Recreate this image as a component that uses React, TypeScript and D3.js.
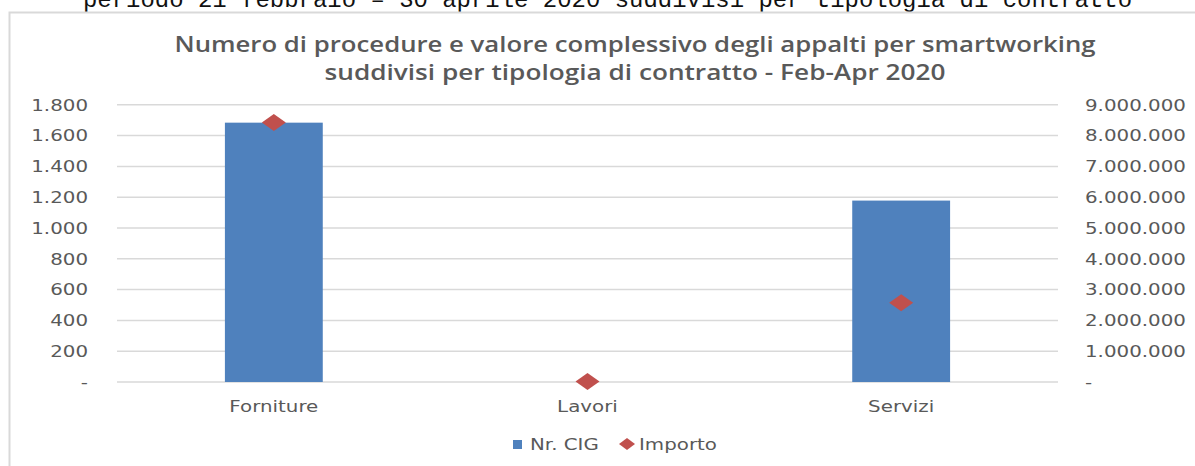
import { useEffect, useRef } from 'react';
import * as d3 from 'd3';

const W = 1195;
const H = 466;

const categories = ['Forniture', 'Lavori', 'Servizi'];
const nrCig = [1684, 0, 1178];
const importo = [8425000, 15000, 2575000];
const leftTicks = [0, 200, 400, 600, 800, 1000, 1200, 1400, 1600, 1800];
const rightTicks = [0, 1000000, 2000000, 3000000, 4000000, 5000000, 6000000, 7000000, 8000000, 9000000];
const titleLines = [
  'Numero di procedure e valore complessivo degli appalti per smartworking',
  'suddivisi per tipologia di contratto - Feb-Apr 2020',
];
const captionAbove = 'periodo 21 febbraio \u2013 30 aprile 2020 suddivisi per tipologia di contratto';

const itLocale = d3.formatLocale({ decimal: ',', thousands: '.', grouping: [3], currency: ['€', ''] });
const fmt = (v: number) => (v === 0 ? '-' : itLocale.format(',')(v));

const TEXT = '#595959';
const GRID = '#d9d9d9';
const BAR = '#4f81bd';
const MARK = '#c0504d';
const SX = 1.24; // the picture is stretched sideways

export default function App() {
  const svgRef = useRef<SVGSVGElement>(null);

  useEffect(() => {
    if (!svgRef.current) return;
    const svg = d3.select(svgRef.current);
    svg.selectAll('*').remove();

    const left = 117;
    const right = 1058;
    const top = 104.8;
    const bottom = 382;

    const x = d3.scaleBand<string>()
      .domain(categories)
      .range([left, right])
      .paddingInner(0.688)
      .paddingOuter(0.344);
    const yL = d3.scaleLinear().domain([0, 1800]).range([bottom, top]);
    const yR = d3.scaleLinear().domain([0, 9000000]).range([bottom, top]);

    // caption of the page above, cut by the top edge as in the source
    svg.append('text')
      .attr('x', 83)
      .attr('y', 7)
      .attr('font-family', '"Liberation Mono", monospace')
      .attr('font-size', 24)
      .attr('fill', '#111')
      .attr('textLength', 1049)
      .attr('lengthAdjust', 'spacingAndGlyphs')
      .text(captionAbove);

    // chart frame
    svg.append('rect')
      .attr('x', 9.5)
      .attr('y', 12.5)
      .attr('width', W + 20)
      .attr('height', H + 20)
      .attr('fill', '#fff')
      .attr('stroke', GRID)
      .attr('stroke-width', 2);

    // title
    const titleWidths = [921, 621];
    titleLines.forEach((line, i) => {
      svg.append('text')
        .attr('x', 635)
        .attr('y', 52 + i * 28)
        .attr('text-anchor', 'middle')
        .attr('font-family', '"Open Sans", sans-serif')
        .attr('font-weight', 600)
        .attr('font-size', 21)
        .attr('fill', TEXT)
        .attr('textLength', titleWidths[i])
        .attr('lengthAdjust', 'spacingAndGlyphs')
        .text(line);
    });

    // gridlines
    svg.append('g')
      .selectAll('line')
      .data(leftTicks)
      .join('line')
      .attr('x1', left)
      .attr('x2', right)
      .attr('y1', d => yL(d))
      .attr('y2', d => yL(d))
      .attr('stroke', GRID)
      .attr('stroke-width', 1.5);

    const label = (g: d3.Selection<SVGGElement, unknown, null, undefined>, tx: number, ty: number, txt: string, anchor: string) => {
      g.append('g')
        .attr('transform', `translate(${tx},${ty}) scale(${SX},1)`)
        .append('text')
        .attr('text-anchor', anchor)
        .attr('dy', '0.36em')
        .attr('font-family', '"DejaVu Sans", sans-serif')
        .attr('font-size', 16)
        .attr('fill', TEXT)
        .text(txt);
    };

    const axes = svg.append('g');
    leftTicks.forEach(t => label(axes, 88, yL(t), fmt(t), 'end'));
    rightTicks.forEach(t => label(axes, 1085, yR(t), fmt(t), 'start'));
    categories.forEach(c => label(axes, x(c)! + x.bandwidth() / 2, 406, c, 'middle'));

    // bars
    svg.append('g')
      .selectAll('rect')
      .data(categories)
      .join('rect')
      .attr('x', d => x(d)!)
      .attr('width', x.bandwidth())
      .attr('y', (d, i) => yL(nrCig[i]))
      .attr('height', (d, i) => bottom - yL(nrCig[i]))
      .attr('fill', BAR);

    // importo markers
    const diamond = (w: number, h: number) => `M0,${-h / 2}L${w / 2},0L0,${h / 2}L${-w / 2},0Z`;
    svg.append('g')
      .selectAll('path')
      .data(categories)
      .join('path')
      .attr('transform', (d, i) => `translate(${x(d)! + x.bandwidth() / 2},${yR(importo[i])})`)
      .attr('d', diamond(24, 17))
      .attr('fill', MARK);

    // legend
    const lg = svg.append('g');
    lg.append('rect').attr('x', 513).attr('y', 440).attr('width', 9).attr('height', 9).attr('fill', BAR);
    label(lg, 530, 444, 'Nr. CIG', 'start');
    lg.append('path').attr('transform', 'translate(627,444)').attr('d', diamond(16, 12)).attr('fill', MARK);
    label(lg, 639, 444, 'Importo', 'start');
  }, []);

  return (
    <svg
      ref={svgRef}
      width={W}
      height={H}
      style={{ position: 'absolute', left: 0, top: 0, display: 'block', background: '#fff' }}
    />
  );
}
